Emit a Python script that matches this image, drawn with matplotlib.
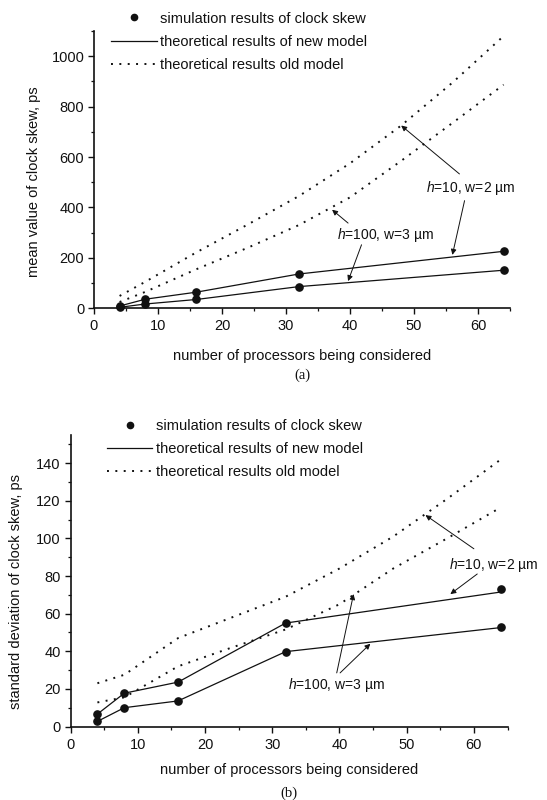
import matplotlib
matplotlib.use("Agg")
import matplotlib.pyplot as plt
from matplotlib.lines import Line2D
from matplotlib.ticker import MultipleLocator, FixedLocator

plt.rcParams['font.family'] = ['Liberation Sans', 'DejaVu Sans']
plt.rcParams['mathtext.fontset'] = 'custom'
plt.rcParams['mathtext.it'] = 'Liberation Sans:italic'
plt.rcParams['mathtext.rm'] = 'Liberation Sans'

# ---------------- data ----------------
procs = [4, 8, 16, 32, 64]
old_x = [4, 8, 16, 24, 32, 40, 48, 56, 64]

# (a) mean value of clock skew, ps
mean_sim_h10 = [9, 36, 64, 137, 228]
mean_sim_h100 = [4, 17, 35, 86, 152]
mean_new_h10 = [9, 36, 64, 136, 226]
mean_new_h100 = [4, 17, 35, 86, 151]
mean_old_h10 = [49, 105, 222, 332, 445, 575, 725, 895, 1080]
mean_old_h100 = [25, 65, 155, 240, 330, 440, 585, 735, 887]

# (b) standard deviation of clock skew, ps
std_sim_h10 = [6.6, 17.7, 23.6, 55.3, 73.0]
std_sim_h100 = [2.7, 10.0, 13.6, 39.8, 53.0]
std_new_h10 = [6.6, 17.7, 23.6, 55.0, 71.5]
std_new_h100 = [2.7, 10.0, 13.6, 39.8, 52.6]
std_old_h10 = [23, 27.5, 47, 58, 69, 84, 101, 121, 142]
std_old_h100 = [12.8, 15.5, 32, 42, 51.6, 65, 84, 100, 116.5]

yticks_a = [0, 200, 400, 600, 800, 1000]
yticks_b = [0, 20, 40, 60, 80, 100, 120, 140]

legend_labels = ["simulation results of clock skew",
                 "theoretical results of new model",
                 "theoretical results old model"]
xlabel = "number of processors being considered"
ylabel_a = "mean value of clock skew, ps"
ylabel_b = "standard deviation of clock skew, ps"
label_h10 = "$h$=10, w=2 \u00b5m"
label_h100 = "$h$=100, w=3 \u00b5m"

INK = '#111111'
DOT = (0, (1, 3.3))

W, H = 547, 800
fig = plt.figure(figsize=(W / 100, H / 100), dpi=100)
ax1 = fig.add_axes([94 / W, (H - 308.3) / H, 416 / W, 277.3 / H])
ax2 = fig.add_axes([70.5 / W, (H - 726.5) / H, 437 / W, 291.5 / H])


def style(ax, ymax, yticks, ymin):
    for s in ['top', 'right']:
        ax.spines[s].set_visible(False)
    for s in ['left', 'bottom']:
        ax.spines[s].set_linewidth(1.2)
        ax.spines[s].set_color(INK)
    ax.xaxis.set_major_locator(MultipleLocator(10))
    ax.xaxis.set_minor_locator(MultipleLocator(5))
    ax.yaxis.set_major_locator(FixedLocator(yticks))
    ax.yaxis.set_minor_locator(MultipleLocator(ymin))
    ax.tick_params(which='major', direction='out', length=4.0, width=1.0,
                   labelsize=10.5, colors=INK, pad=3)
    ax.tick_params(which='minor', direction='out', length=2.5, width=0.9, colors=INK)
    ax.tick_params(axis='x', which='major', pad=4)
    ax.set_xlim(0, 65)
    ax.set_ylim(0, ymax)


def draw(ax, sim1, sim2, new1, new2, old1, old2):
    ax.plot(old_x, old1, color=INK, lw=1.4, linestyle=DOT)
    ax.plot(old_x, old2, color=INK, lw=1.4, linestyle=DOT)
    ax.plot(procs, new1, color=INK, lw=0.9)
    ax.plot(procs, new2, color=INK, lw=0.9)
    ax.plot(procs, sim1, 'o', color=INK, ms=5.2, clip_on=False)
    ax.plot(procs, sim2, 'o', color=INK, ms=5.2, clip_on=False)


def legend(ax, x, y):
    handles = [Line2D([], [], marker='o', ls='none', color=INK, ms=4.5),
               Line2D([], [], color=INK, lw=0.9),
               Line2D([], [], color=INK, lw=1.4, ls=DOT)]
    ax.legend(handles, legend_labels, loc='upper left', bbox_to_anchor=(x, y),
              frameon=False, fontsize=10.5, handlelength=3.1, handletextpad=0.25,
              borderpad=0, borderaxespad=0, labelspacing=0.62, labelcolor=INK)


def arrow(ax, start, tip):
    ax.annotate('', xy=tip, xytext=start,
                arrowprops=dict(arrowstyle='-|>', color=INK, lw=0.7,
                                shrinkA=0, shrinkB=0, mutation_scale=8))


# ---------- panel (a) ----------
style(ax1, 1100, yticks_a, 100)
draw(ax1, mean_sim_h10, mean_sim_h100, mean_new_h10, mean_new_h100,
     mean_old_h10, mean_old_h100)
legend(ax1, 0.042, 1.07)
ax1.set_xlabel(xlabel, fontsize=10.5, color=INK, labelpad=11)
ax1.set_ylabel(ylabel_a, fontsize=10.5, color=INK)
ax1.yaxis.set_label_coords(-0.128, 0.455)
ax1.text(51.9, 477, label_h10, fontsize=10, color=INK, va='center', ha='left')
ax1.text(37.9, 289, label_h100, fontsize=10, color=INK, va='center', ha='left')
arrow(ax1, (57.1, 533), (48.0, 725))
arrow(ax1, (57.9, 427), (56.0, 212))
arrow(ax1, (39.7, 338), (37.2, 391))
arrow(ax1, (41.8, 252), (39.7, 108))
ax1.text(0.5, -0.24, "(a)", transform=ax1.transAxes, ha='center', va='center',
         fontsize=10.5, color=INK, family=['Liberation Serif', 'DejaVu Serif'])

# ---------- panel (b) ----------
style(ax2, 155, yticks_b, 10)
draw(ax2, std_sim_h10, std_sim_h100, std_new_h10, std_new_h100,
     std_old_h10, std_old_h100)
legend(ax2, 0.084, 1.055)
ax2.set_xlabel(xlabel, fontsize=10.5, color=INK, labelpad=8)
ax2.set_ylabel(ylabel_b, fontsize=10.5, color=INK)
ax2.yaxis.set_label_coords(-0.108, 0.462)
ax2.text(56.3, 86.1, label_h10, fontsize=10, color=INK, va='center', ha='left', clip_on=False)
ax2.text(32.4, 22.3, label_h100, fontsize=10, color=INK, va='center', ha='left')
arrow(ax2, (60.0, 94.5), (52.8, 112.4))
arrow(ax2, (60.5, 81.1), (56.5, 70.4))
arrow(ax2, (39.6, 28.5), (42.1, 70.4))
arrow(ax2, (40.1, 28.5), (44.6, 44.0))
ax2.text(0.5, -0.23, "(b)", transform=ax2.transAxes, ha='center', va='center',
         fontsize=10.5, color=INK, family=['Liberation Serif', 'DejaVu Serif'])

fig.savefig("out.png", dpi=100)
